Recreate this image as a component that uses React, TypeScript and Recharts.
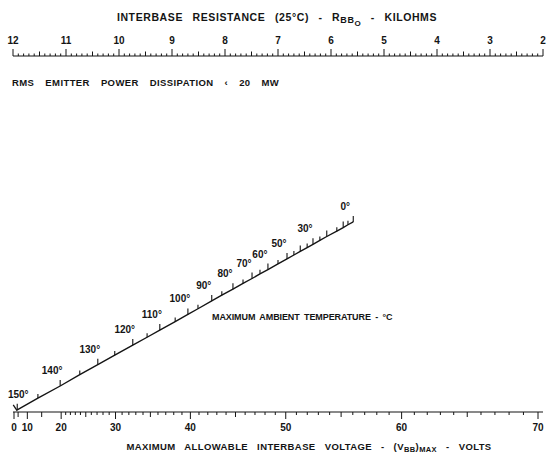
import React from 'react';
import { ComposedChart, Line, XAxis, YAxis } from 'recharts';

document.body.style.margin = '0';

// top scale: interbase resistance, kilohms
const resistanceTicks = [12, 11, 10, 9, 8, 7, 6, 5, 4, 3, 2];
// bottom scale: max interbase voltage, volts
const voltageTicks = [0, 10, 20, 30, 40, 50, 60, 70];
// diagonal scale: max ambient temperature (deg C) and where each tick sits (percent of plot)
const tempValues = [150, 145, 140, 135, 130, 125, 120, 115, 110, 105, 100, 95, 90, 85, 80, 75, 70, 65, 60, 55, 50, 45, 40, 35, 30, 25, 20, 15, 10, 5, 0];
const tempX = [0.8, 4.7, 8.9, 12.6, 16.0, 19.2, 22.6, 25.3, 27.7, 30.6, 33.0, 34.9, 37.5, 39.4, 41.5, 43.4, 45.1, 46.6, 48.1, 50.0, 51.7, 53.0, 54.2, 55.5, 56.6, 57.9, 59.2, 61.1, 62.3, 63.2, 64.2];
const tempY = [0.6, 3.9, 7.3, 10.5, 13.3, 16.0, 18.8, 21.0, 23.0, 25.4, 27.4, 29.0, 31.2, 32.8, 34.5, 36.1, 37.5, 38.8, 40.0, 41.6, 43.0, 44.1, 45.1, 46.2, 47.1, 48.2, 49.3, 50.8, 51.8, 52.6, 53.4];
const tempLabels = [150, 140, 130, 120, 110, 100, 90, 80, 70, 60, 50, 30, 0];

const INK = '#141414';
const FONT = '"Liberation Sans", Arial, sans-serif';

// voltage scale of the nomograph is roughly quadratic
const vPos = (v: number) => v * v + 3 * v;

const resMinor: number[] = [];
for (let i = 0; i <= 100; i++) resMinor.push(Math.round((2 + i * 0.1) * 10) / 10);

const voltMinor: number[] = [0, 5, 10, 15];
for (let v = 20; v <= 70; v++) voltMinor.push(v);
const voltByPos = new Map(voltMinor.map((v) => [vPos(v), v]));

const tempData = tempValues.map((t, i) => ({ t, x: tempX[i], y: tempY[i] }));

const ResTick = (props: any) => {
  const { x, y, payload } = props;
  const v = payload.value;
  const major = Math.abs(v - Math.round(v)) < 1e-6;
  const half = !major && Math.abs(v * 2 - Math.round(v * 2)) < 1e-6;
  const len = major ? 7 : half ? 4.5 : 2.5;
  return (
    <g>
      <line x1={x} x2={x} y1={y} y2={y - len} stroke={INK} strokeWidth={1} />
      {major && (
        <text x={x} y={y - 12} textAnchor="middle" fontSize={10} fontWeight={700} fontFamily={FONT} fill={INK}>
          {Math.round(v)}
        </text>
      )}
    </g>
  );
};

const VoltTick = (props: any) => {
  const { x, y, payload } = props;
  const v = voltByPos.get(payload.value) ?? 0;
  const major = v % 10 === 0;
  const len = major ? 7 : v % 5 === 0 ? 5 : 3;
  return (
    <g>
      <line x1={x} x2={x} y1={y} y2={y + len} stroke={INK} strokeWidth={1} />
      {major && (
        <text x={x} y={y + 19} textAnchor="middle" fontSize={10} fontWeight={700} fontFamily={FONT} fill={INK}>
          {v}
        </text>
      )}
    </g>
  );
};

const TempTick = (props: any) => {
  const { cx, cy, payload, index } = props;
  const t = payload.t;
  const len = t % 10 === 0 ? 6 : 4;
  return (
    <g key={`tt-${index}`}>
      <line x1={cx} x2={cx} y1={cy} y2={cy - len} stroke={INK} strokeWidth={1.1} />
      {t === 150 && <line x1={cx - 4} y1={cy - 5} x2={cx} y2={cy + 1} stroke={INK} strokeWidth={1.3} />}
      {tempLabels.includes(t) && (
        <text x={cx + (t === 150 ? 1 : -8)} y={cy - 12} textAnchor="middle" fontSize={10} fontWeight={700} fontFamily={FONT} fill={INK}>
          {t}°
        </text>
      )}
    </g>
  );
};

const textStyle = { fontFamily: FONT, fontWeight: 700, fill: INK } as const;

export default function App() {
  return (
    <div style={{ position: 'relative', width: 549, height: 454, background: '#fff' }}>
      <ComposedChart width={549} height={454} margin={{ top: 30, right: 6, left: 13, bottom: 0 }}>
        <XAxis xAxisId="u" type="number" dataKey="x" domain={[0, 100]} height={0} hide />
        <XAxis
          xAxisId="res"
          orientation="top"
          type="number"
          dataKey="r"
          domain={[2, 12]}
          reversed
          ticks={resMinor}
          interval={0}
          tickSize={0}
          tickMargin={0}
          tickLine={false}
          height={26}
          axisLine={{ stroke: INK, strokeWidth: 1.2 }}
          tick={<ResTick />}
        />
        <XAxis
          xAxisId="volt"
          orientation="bottom"
          type="number"
          dataKey="p"
          domain={[0, vPos(70)]}
          ticks={voltMinor.map(vPos)}
          interval={0}
          tickSize={0}
          tickMargin={0}
          tickLine={false}
          height={42}
          padding={{ left: 1, right: 5 }}
          axisLine={{ stroke: INK, strokeWidth: 1.2 }}
          tick={<VoltTick />}
        />
        <YAxis yAxisId="y" type="number" domain={[0, 100]} width={0} hide />
        <Line
          xAxisId="res"
          yAxisId="y"
          data={resistanceTicks.map((r) => ({ r, y: 0 }))}
          dataKey="y"
          stroke="none"
          dot={false}
          isAnimationActive={false}
        />
        <Line
          xAxisId="volt"
          yAxisId="y"
          data={voltageTicks.map((v) => ({ p: vPos(v), y: 0 }))}
          dataKey="y"
          stroke="none"
          dot={false}
          isAnimationActive={false}
        />
        <Line
          xAxisId="u"
          yAxisId="y"
          data={tempData}
          dataKey="y"
          type="linear"
          stroke={INK}
          strokeWidth={1.4}
          dot={TempTick}
          activeDot={false}
          isAnimationActive={false}
        />
      </ComposedChart>
      <svg width={549} height={454} style={{ position: 'absolute', left: 0, top: 0, pointerEvents: 'none' }}>
        <text x={277} y={21} textAnchor="middle" fontSize={10.5} wordSpacing={6} letterSpacing={0.6} {...textStyle}>
          INTERBASE RESISTANCE (25°C) - R
          <tspan fontSize={9} dy={2}>BB</tspan>
          <tspan fontSize={8} dy={3}>O</tspan>
          <tspan dy={-5}> - KILOHMS</tspan>
        </text>
        <text x={12} y={86} fontSize={9.5} wordSpacing={8} letterSpacing={0.4} {...textStyle}>
          RMS EMITTER POWER DISSIPATION ‹ 20 MW
        </text>
        <text x={212} y={320} fontSize={9} wordSpacing={2} letterSpacing={-0.1} {...textStyle}>
          MAXIMUM AMBIENT TEMPERATURE - °C
        </text>
        <text x={309} y={450} textAnchor="middle" fontSize={9.5} wordSpacing={6} letterSpacing={0.4} {...textStyle}>
          MAXIMUM ALLOWABLE INTERBASE VOLTAGE - (V
          <tspan fontSize={7.5} dy={2}>BB</tspan>
          <tspan dy={-2}>)</tspan>
          <tspan fontSize={7.5} dy={2}>MAX</tspan>
          <tspan dy={-2}> - VOLTS</tspan>
        </text>
      </svg>
    </div>
  );
}
